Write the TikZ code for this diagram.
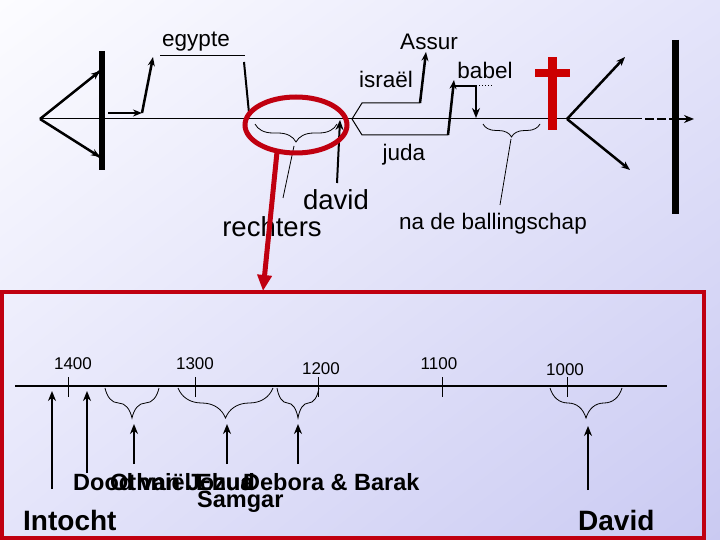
\documentclass[tikz,border=0pt]{standalone}
\usepackage{fontspec}
\setmainfont{Liberation Sans}
\usetikzlibrary{arrows.meta,decorations.pathreplacing,calc,shadings}
\definecolor{bgA}{RGB}{252,252,255}
\definecolor{bgB}{RGB}{228,228,250}
\definecolor{bgC}{RGB}{202,202,242}
\definecolor{darkred}{RGB}{192,0,16}
\definecolor{crossred}{RGB}{204,0,0}
\tikzset{
  lbl/.style={inner sep=0pt, font=\fontsize{22.5}{24}\selectfont},
  biglbl/.style={inner sep=0pt, font=\fontsize{27.5}{29}\selectfont},
  numlbl/.style={inner sep=0pt, font=\fontsize{17}{19}\selectfont},
  boldlbl/.style={inner sep=0pt, font=\fontsize{23.5}{25}\selectfont\bfseries},
  boldbig/.style={inner sep=0pt, font=\fontsize{28}{30}\selectfont\bfseries},
  thinln/.style={line width=1pt},
  heavyarr/.style={line width=2.5pt, -{Stealth[length=9pt,width=7pt]}},
  medarr/.style={line width=2pt, -{Stealth[length=10pt,width=8pt]}},
  topbrace/.style={decorate, decoration={brace, mirror, amplitude=#1}, line width=0.8pt},
}
\begin{document}
\begin{tikzpicture}[x=1pt,y=-1pt]
\useasboundingbox (0,0) rectangle (720,540);
\shade[upper left=bgA, upper right=bgB, lower left=bgB, lower right=bgC] (0,0) rectangle (720,540);

% ---------- top timeline ----------
\coordinate (apexL) at (40,119);
\coordinate (tlA) at (100,71);
\coordinate (tlB) at (100,157);
\coordinate (tlEnd) at (642,119);
\draw[line width=2.5pt] (apexL) -- (tlA) (apexL) -- (tlB);
\draw[heavyarr] ($(apexL)!0.9!(tlA)$) -- (tlA);
\draw[heavyarr] ($(apexL)!0.9!(tlB)$) -- (tlB);
\draw[line width=6pt] (102,51) -- (102,170);
\draw[thinln] (apexL) -- (tlEnd);
\draw[line width=2.5pt, dash pattern=on 9pt off 3pt] (645,119) -- (673,119);
\coordinate (tlArrS) at (673,119);
\coordinate (tlArrE) at (694,119);
\draw[medarr] (tlArrS) -- (tlArrE);
\draw[line width=7pt] (675,40) -- (675,214);

% egypte
\coordinate (eg0) at (108,113);
\coordinate (eg1) at (142,113);
\coordinate (eg2) at (153,57);
\draw[heavyarr] (eg0) -- (eg1);
\draw[heavyarr] (eg1) -- (eg2);
\node[lbl] (egypte) at (196,42) {egypte};
\coordinate (egL) at (160,56);
\coordinate (egR) at (245,56);
\draw[thinln] (egL) -- (egR);
\coordinate (egD0) at (244,62);
\coordinate (egD1) at (249,113);
\draw[line width=2pt] (egD0) -- (egD1);

% rechters brace
\coordinate (rbL) at (255,124);
\coordinate (rbR) at (337,124);
\draw[topbrace=18pt] (rbL) -- (rbR);
\coordinate (rbTip) at (294,146);
\coordinate (rbEnd) at (283,198);
\draw[line width=0.8pt] (rbTip) -- (rbEnd);

% david arrow
\coordinate (dv0) at (337,183);
\coordinate (dv1) at (340,120);
\draw[medarr] (dv0) -- (dv1);

% israel / juda split
\coordinate (sp) at (352,119);
\coordinate (is1) at (362,103);
\coordinate (is2) at (420,103);
\coordinate (is3) at (426,52);
\draw[thinln] (sp) -- (is1) -- (is2);
\draw[heavyarr] (is2) -- (is3);
\coordinate (ju1) at (362,135);
\coordinate (ju2) at (448,135);
\coordinate (ju3) at (454,80);
\draw[thinln] (sp) -- (ju1) -- (ju2);
\draw[heavyarr] (ju2) -- (ju3);
\coordinate (bb1) at (455,86);
\coordinate (bb2) at (476,86);
\coordinate (bb3) at (476,118);
\coordinate (bb4) at (493,86);
\draw[line width=1.5pt] (bb1) -- (bb2);
\draw[medarr] (bb2) -- (bb3);
\draw[line width=1pt, dotted] (bb2) -- (bb4);

% na de ballingschap brace
\coordinate (nbL) at (483,124);
\coordinate (nbR) at (540,124);
\draw[topbrace=13pt] (nbL) -- (nbR);
\coordinate (nbTip) at (511,139);
\coordinate (nbEnd) at (500,205);
\draw[line width=0.8pt] (nbTip) -- (nbEnd);

% cross
\fill[crossred] (548,57) rectangle (557,130);
\fill[crossred] (535,69) rectangle (570,77);

% right V
\coordinate (apexR) at (567,119);
\coordinate (vr1) at (625,57);
\coordinate (vr2) at (630,170);
\draw[heavyarr] (apexR) -- (vr1);
\draw[heavyarr] (apexR) -- (vr2);

% labels
\node[lbl] (assur) at (429,42) {Assur};
\node[lbl] (israel) at (386,79) {israël};
\node[lbl] (babel) at (485,70) {babel};
\node[lbl] (juda) at (404,155) {juda};
\node[biglbl] (david) at (336,200) {david};
\node[biglbl] (rechters) at (272,227) {rechters};
\node[lbl] (nadeb) at (493,224) {na de ballingschap};

% red ellipse and arrow
\draw[darkred, line width=5pt] (296,125) ellipse [x radius=51pt, y radius=28pt];
\coordinate (ra0) at (277,152);
\coordinate (ra1) at (263,291);
\draw[darkred, line width=5pt, -{Triangle[length=16pt,width=14pt]}] (ra0) -- (ra1);

% ---------- bottom box ----------
\draw[darkred, line width=4pt] (2,292) rectangle (704,538);
\coordinate (btL) at (15,386);
\coordinate (btR) at (667,386);
\draw[line width=2.5pt] (btL) -- (btR);
\foreach \x/\lx/\y/\t [count=\i] in {68/73/364/1400, 195/195/364/1300, 318/321/369/1200, 442/439/364/1100, 567/565/370/1000}{
  \draw[line width=1pt] (\x,377) -- (\x,397);
  \node[numlbl] (yr\i) at (\lx,\y) {\t};
}
\draw[topbrace=30pt] (105,388) -- (159,388);
\draw[topbrace=30pt] (178,388) -- (273,388);
\draw[topbrace=30pt] (277,388) -- (319,388);
\draw[topbrace=30pt] (550,388) -- (622,388);

\coordinate (ai0) at (52,489); \coordinate (ai1) at (52,391);
\coordinate (aj0) at (87,473); \coordinate (aj1) at (87,391);
\coordinate (ao0) at (134,464); \coordinate (ao1) at (134,424);
\coordinate (ae0) at (227,464); \coordinate (ae1) at (227,424);
\coordinate (ad0) at (298,464); \coordinate (ad1) at (298,424);
\coordinate (dd0) at (588,490); \coordinate (dd1) at (588,426);
\foreach \a in {ai,aj,ao,ae,ad,dd}{
  \draw[medarr] (\a0) -- (\a1);
}

\node[boldlbl, anchor=base west] (dood) at (73,490) {Dood van Jozua};
\node[boldlbl, anchor=base west] (othniel) at (110,490) {Othniël};
\node[boldlbl, anchor=base west] (ehud) at (196,490) {Ehud};
\node[boldlbl, anchor=base west] (debora) at (243,490) {Debora \& Barak};
\node[boldlbl, anchor=base west] (samgar) at (197,507) {Samgar};
\node[boldbig, anchor=base west] (intocht) at (23,530) {Intocht};
\node[boldbig, anchor=base west] (davidB) at (578,530) {David};
\end{tikzpicture}
\end{document}
